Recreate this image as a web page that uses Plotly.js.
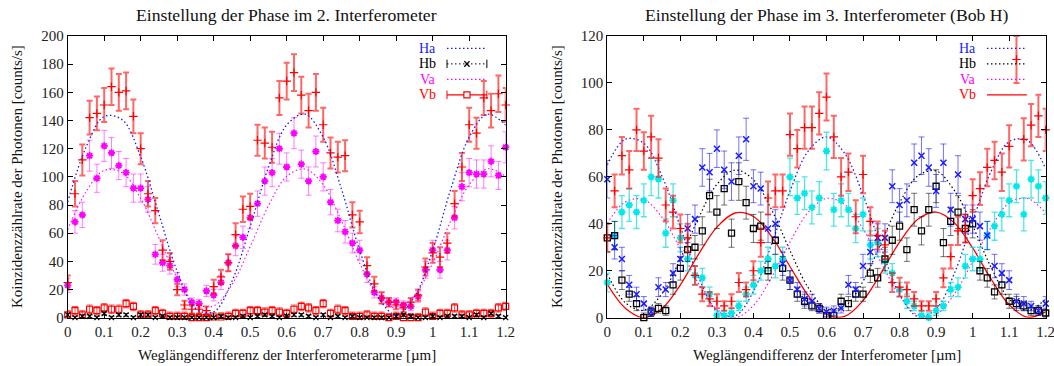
<!DOCTYPE html>
<html><head><meta charset="utf-8">
<script src="https://cdn.plot.ly/plotly-3.0.1.min.js"></script>
<style>html,body{margin:0;padding:0;background:#fff}#chart{width:1054px;height:366px}</style>
</head><body><div id="chart"></div>
<script>
// ---------- data ----------
const xData = [0,0.02,0.04,0.06,0.08,0.1,0.12,0.14,0.16,0.18,
  0.2,0.22,0.24,0.26,0.28,0.3,0.32,0.34,0.36,0.38,
  0.4,0.42,0.44,0.46,0.48,0.5,0.52,0.54,0.56,0.58,
  0.6,0.62,0.64,0.66,0.68,0.7,0.72,0.74,0.76,0.78,
  0.8,0.82,0.84,0.86,0.88,0.9,0.92,0.94,0.96,0.98,
  1,1.02,1.04,1.06,1.08,1.1,1.12,1.14,1.16,1.18,1.2];
const fitX = [0,0.05,0.1,0.15,0.2,0.25,0.3,0.35,0.4,0.45,0.5,0.55,0.6,0.65,0.7,0.75,0.8,0.85,0.9,0.95,1,1.05,1.1,1.15,1.2];

// left panel (2. Interferometer)
const haL = [25,88,112,142,145,151,164,160,161,143,
  120,88,76,48,40,20,9,6,6,5,
  22,29,39,59,77,79,126,124,121,156,
  168,174,158,147,160,137,117,114,115,73,
  68,37,24,14,11,9,7,11,16,36,
  46,43,53,81,107,137,131,156,147,159,151];
const haLerr = [5,9,11,12,12,12,13,13,13,12,
  11,9,9,7,6,4,3,3,3,3,
  5,5,6,8,9,9,11,11,11,12,
  13,13,13,12,13,12,11,11,11,9,
  8,6,5,4,3,3,3,3,4,6,
  7,7,7,9,10,12,11,12,12,13,12];
const vaL = [23,68,73,115,99,122,117,108,103,92,
  92,84,45,39,37,27,20,11,10,19,
  16,25,39,51,57,71,81,97,103,120,
  107,131,109,97,118,100,82,69,61,53,
  48,31,18,14,11,11,9,8,15,34,
  48,34,48,71,93,103,102,102,111,101,121];
const vaLerr = [5,8,9,11,10,11,11,10,10,10,
  10,9,7,6,6,5,4,3,3,4,
  4,5,6,7,8,8,9,10,10,11,
  10,11,10,10,11,10,9,8,8,7,
  7,6,4,4,3,3,3,3,4,6,
  7,6,7,8,10,10,10,10,11,10,11];
const hbL = [2,0,1,1,0,3,0,2,2,0,
  2,2,0,1,0,0,0,0,0,0,
  0,1,0,0,1,0,1,2,1,0,
  1,2,2,1,0,2,0,1,0,1,
  0,0,0,0,0,1,2,1,0,0,
  1,0,1,1,1,0,2,0,3,1,0];
const vbL = [2,5,2,6,5,7,6,6,10,8,
  2,2,5,3,1,1,1,0,0,0,
  0.5,0.5,1,3,3,5,5,4,5,4,
  3,6,8,7,5,10,3,6,5,1,
  1,2,1,1,0,1,0,0,0,4,
  1,3,3,7,2,2,3,3,3,7,8];
const fitHaL = [82.1,120.9,142.9,140.4,114.2,73.5,32.9,6.6,4.1,25.9,64.8,106.7,136.8,144.5,128.1,91.4,47.7,14.6,2.0,14.7,47.9,91.7,128.2,144.5,136.7];
const fitVaL = [62.5,89.3,104.6,102.8,84.7,56.5,28.4,10.2,8.4,23.5,50.5,79.5,100.3,105.6,94.3,68.9,38.6,15.7,7.0,15.8,38.8,69.1,94.4,105.7,100.3];

// right panel (3. Interferometer, Bob H)
const redR = [34,54,69,63,80,71,77,68,48,45,
  38,34,18,10,8,7,5,7,15,12,
  20,32,51,54,54,78,72,81,81,87,
  94,77,60,62,43,61,41,35,31,15,
  13,12,8,5,5,8,17,26,37,38,
  52,55,64,67,62,73,110,76,82,86,80];
const redRerr = [6,7,8,8,9,8,9,8,7,7,
  6,6,4,3,3,3,2,3,4,3,
  4,6,7,7,7,9,8,9,9,9,
  10,9,8,8,7,8,6,6,6,4,
  4,3,3,2,2,3,4,5,6,6,
  7,7,8,8,8,9,10,9,9,9,9];
const blueR = [59,30,25,14,10,6,2.5,13,12,19,
  25,38,42,64,62,72,63,58,69,76,
  56,55,38,40,23,16,12,8,7,4,
  2.5,3,4,14,12,22,28,34,34,56,
  48,50,66,69,64,54,66,46,61,42,
  42,39,35,22,19,16,7,6,5,3,6];
const blueRerr = [8,5,5,4,3,3,2,4,3,4,
  5,6,6,8,8,8,8,8,8,9,
  7,7,6,6,5,4,3,3,3,2,
  2,2,2,4,3,5,5,6,6,7,
  7,7,8,8,8,7,8,7,8,6,
  6,6,6,5,4,4,3,3,2,2,3];
const blackR = [34,35,16,10,6,0,2.5,4,3,14,
  21,29,30,37,52,45,55,36,58,49,
  38,39,20,33,21,16,10,7,5,4,
  1,1,7,6,10,10,19,17,25,33,
  39,29,46,37,46,56,32,41,45,38,
  40,20,17,11,14,7,6,5,3,3,2];
const blackRerr = [6,6,4,3,3,2,2,2,2,4,
  5,5,5,6,7,7,7,6,8,7,
  6,6,4,6,5,4,3,3,2,2,
  2,2,3,3,3,3,4,4,5,6,
  6,5,7,6,7,7,6,6,7,6,
  6,4,4,3,4,3,3,2,2,2,2];
const cyanR = [15,35,45,48,45,50,60,59,36,50,
  34,25,18,17,10,1,1,2,5,10,
  14,20,25,22,25,60,51,53,47,51,
  71,46,50,46,38,44,31,32,24,19,
  12,7,5,1,0,3,5,12,13,22,
  25,25,35,39,44,50,56,44,59,56,51];
const cyanRerr = [4,6,7,7,7,7,8,8,6,7,
  6,5,4,4,3,2,2,2,2,3,
  4,4,5,5,5,8,7,7,7,7,
  8,7,7,7,6,7,6,6,5,4,
  3,3,2,2,2,2,2,3,4,5,
  5,5,6,6,7,7,7,7,8,7,7];
const fitHaR = [65.1,76.1,74.3,60.2,38.7,17.2,2.9,0.8,11.2,31.4,53.9,71.0,77.0,69.9,52.2,29.7,10.0,0.5,3.7,18.9,41.1,62.2,75.0,75.5,63.4];
const fitHbR = [18.7,6.3,3.2,10.3,25.1,42.6,56.8,62.9,58.8,45.9,28.6,12.8,3.8,4.9,15.5,32.1,49.0,60.4,62.5,54.2,39.2,21.6,8.0,3.0,8.1];
const fitVaR = [40.2,49.4,50.3,42.7,29.3,14.5,3.5,0.0,5.2,17.3,32.2,44.9,50.8,48.2,37.8,23.3,9.4,1.2,1.4,10.1,24.0,38.4,48.9,50.8,44.6];
const fitVbR = [14.2,3.9,0,3.9,14.0,27.1,38.6,44.6,43.1,34.5,21.8,9.4,1.4,0.6,7.3,19.2,32.2,41.9,45.0,40.4,29.7,16.6,5.5,0.2,2.5];

const xTickVals = [0,0.1,0.2,0.3,0.4,0.5,0.6,0.7,0.8,0.9,1,1.1,1.2];
const xTickText = ['0','0.1','0.2','0.3','0.4','0.5','0.6','0.7','0.8','0.9','1','1.1','1.2'];
const yTicksL = [0,20,40,60,80,100,120,140,160,180,200];
const yTicksR = [0,20,40,60,80,100,120];
const legendNames = ['Ha','Hb','Va','Vb'];
const titleL = 'Einstellung der Phase im 2. Interferometer';
const titleR = 'Einstellung der Phase im 3. Interferometer (Bob H)';
const xTitleL = 'Weglängendifferenz der Interferometerarme [µm]';
const xTitleR = 'Weglängendifferenz der Interferometer [µm]';
const yTitle = 'Koinzidenzzählrate der Photonen [counts/s]';

// ---------- styling ----------
const W = 1054, H = 366;
const FONT = '"Liberation Serif", Tinos, "DejaVu Serif", "Noto Serif", serif';
const BLUE = '#1a1aff', RED = '#ff0000', MAG = '#ff00ff', CYAN = '#00e8e8', BLK = '#000000';
const DOT = '1.5px,2.5px';

function errT(x, y, err, xa, ya, sym, col, size, lw, ecol, eth) {
  return {x: x, y: y, xaxis: xa, yaxis: ya, type: 'scatter', mode: 'markers', cliponaxis: false,
    marker: {symbol: sym, size: size, color: col, line: {color: col, width: lw}},
    error_y: (typeof err === 'number') ? {type: 'constant', value: err, color: ecol, thickness: eth, width: 3}
                                         : {type: 'data', array: err, visible: true, color: ecol, thickness: eth, width: 3},
    hoverinfo: 'skip'};
}
function fitT(y, xa, ya, col, dash, w) {
  return {x: fitX, y: y, xaxis: xa, yaxis: ya, type: 'scatter', mode: 'lines',
    line: {color: col, dash: dash, width: w, shape: 'spline', smoothing: 1}, hoverinfo: 'skip'};
}

const traces = [
  // left
  errT(xData, vbL, 3, 'x', 'y', 'square-open', RED, 6, 1.2, 'rgba(255,0,0,0.7)', 1),
  errT(xData, hbL, 1, 'x', 'y', 'x-thin', BLK, 5, 1.2, 'rgba(0,0,0,0.7)', 1),
  errT(xData, vaL, vaLerr, 'x', 'y', 'asterisk-open', MAG, 6, 1.8, 'rgba(255,0,255,0.5)', 1),
  errT(xData, haL, haLerr, 'x', 'y', 'cross-thin', RED, 6, 1.2, 'rgba(255,0,0,0.6)', 2),
  fitT(fitHaL, 'x', 'y', BLUE, DOT, 1.3),
  fitT(fitVaL, 'x', 'y', MAG, DOT, 1.1),
  // right
  fitT(fitHaR, 'x2', 'y2', BLUE, DOT, 1.3),
  fitT(fitHbR, 'x2', 'y2', BLK, DOT, 1.2),
  fitT(fitVaR, 'x2', 'y2', MAG, DOT, 1.1),
  fitT(fitVbR, 'x2', 'y2', RED, 'solid', 1.3),
  errT(xData, cyanR, cyanRerr, 'x2', 'y2', 'asterisk-open', CYAN, 6, 1.8, 'rgba(0,220,220,0.7)', 1.3),
  errT(xData, blackR, blackRerr, 'x2', 'y2', 'square-open', BLK, 6, 1.3, 'rgba(0,0,0,0.55)', 1),
  errT(xData, blueR, blueRerr, 'x2', 'y2', 'x-thin', BLUE, 6, 1.5, 'rgba(0,0,255,0.55)', 1),
  errT(xData, redR, redRerr, 'x2', 'y2', 'cross-thin', RED, 6, 1.2, 'rgba(255,0,0,0.6)', 2)
];

function xAx(domain, anchor) {
  return {domain: domain, anchor: anchor, range: [0, 1.2], tickvals: xTickVals, ticktext: xTickText,
    ticks: 'inside', ticklen: 5, tickcolor: BLK, showline: true, linecolor: BLK, linewidth: 1,
    mirror: 'ticks', showgrid: false, zeroline: false, fixedrange: true, ticklabeloverflow: 'allow',
    tickfont: {family: FONT, size: 15, color: '#222'}};
}
function yAx(domain, anchor, range, ticks) {
  return {domain: domain, anchor: anchor, range: range, tickvals: ticks, ticktext: ticks.map(String),
    ticks: 'inside', ticklen: 5, tickcolor: BLK, showline: true, linecolor: BLK, linewidth: 1,
    mirror: 'ticks', showgrid: false, zeroline: false, fixedrange: true, ticklabeloverflow: 'allow',
    tickfont: {family: FONT, size: 15, color: '#222'}};
}
const yDom = [(H - 317.7) / H, (H - 36) / H];

const annotations = [];
const shapes = [];
function txt(t, x, y, size, extra) {
  annotations.push(Object.assign({text: t, x: x / W, y: 1 - y / H, xref: 'paper', yref: 'paper',
    showarrow: false, xanchor: 'center', yanchor: 'middle', font: {family: FONT, size: size, color: '#111'}}, extra || {}));
}
txt(titleL, 286.7, 15, 17.7);
txt(titleR, 826.5, 15, 17.7);
txt(xTitleL, 286.7, 355, 15);
txt(xTitleR, 826.5, 355, 15);
txt(yTitle, 17, 177, 15, {textangle: -90});
txt(yTitle, 557, 177, 15, {textangle: -90});

// legends (gnuplot style: coloured label, sample line to the right)
const legCols = [BLUE, BLK, MAG, RED];
const legRows = [0.956, 0.901, 0.846, 0.791];
function legend(xa, ya, styles) {
  for (let i = 0; i < 4; i++) {
    annotations.push({text: legendNames[i], xref: xa + ' domain', yref: ya + ' domain', x: 0.846, y: legRows[i],
      xanchor: 'right', yanchor: 'middle', showarrow: false, font: {family: FONT, size: 14, color: legCols[i]}});
    const s = styles[i];
    shapes.push({type: 'line', xref: xa + ' domain', yref: ya + ' domain', x0: 0.866, x1: 0.957, y0: legRows[i], y1: legRows[i],
      line: {color: legCols[i], width: s.w, dash: s.dash}});
    if (s.caps) {
      const dy = 0.015;
      [0.866, 0.957].forEach(function (xx) {
        shapes.push({type: 'line', xref: xa + ' domain', yref: ya + ' domain', x0: xx, x1: xx, y0: legRows[i] - dy, y1: legRows[i] + dy,
          line: {color: legCols[i], width: 1}});
      });
      const xm = 0.9115, hx = 0.006, hy = 0.01;
      if (s.mark === 'x') {
        shapes.push({type: 'line', xref: xa + ' domain', yref: ya + ' domain', x0: xm - hx, x1: xm + hx, y0: legRows[i] - hy, y1: legRows[i] + hy, line: {color: legCols[i], width: 1.3}});
        shapes.push({type: 'line', xref: xa + ' domain', yref: ya + ' domain', x0: xm - hx, x1: xm + hx, y0: legRows[i] + hy, y1: legRows[i] - hy, line: {color: legCols[i], width: 1.3}});
      } else if (s.mark === 'sq') {
        shapes.push({type: 'rect', xref: xa + ' domain', yref: ya + ' domain', x0: xm - 0.007, x1: xm + 0.007, y0: legRows[i] - 0.011, y1: legRows[i] + 0.011,
          fillcolor: '#ffffff', line: {color: legCols[i], width: 1.2}});
      }
    }
  }
}
legend('x', 'y', [{w: 1.3, dash: DOT}, {w: 1, dash: DOT, caps: true, mark: 'x'}, {w: 1.1, dash: DOT}, {w: 1.3, dash: 'solid', caps: true, mark: 'sq'}]);
legend('x2', 'y2', [{w: 1.3, dash: DOT}, {w: 1.2, dash: DOT}, {w: 1.1, dash: DOT}, {w: 1.3, dash: 'solid'}]);

const layout = {
  width: W, height: H, margin: {l: 0, r: 0, t: 0, b: 0}, showlegend: false,
  paper_bgcolor: '#ffffff', plot_bgcolor: '#ffffff',
  font: {family: FONT, size: 15, color: '#111'},
  xaxis: xAx([67.7 / W, 505.7 / W], 'y'),
  yaxis: yAx(yDom, 'x', [0, 200], yTicksL),
  xaxis2: xAx([607.3 / W, 1045.7 / W], 'y2'),
  yaxis2: yAx(yDom, 'x2', [0, 120], yTicksR),
  annotations: annotations, shapes: shapes
};
Plotly.newPlot('chart', traces, layout, {staticPlot: true, displayModeBar: false});
</script></body></html>
